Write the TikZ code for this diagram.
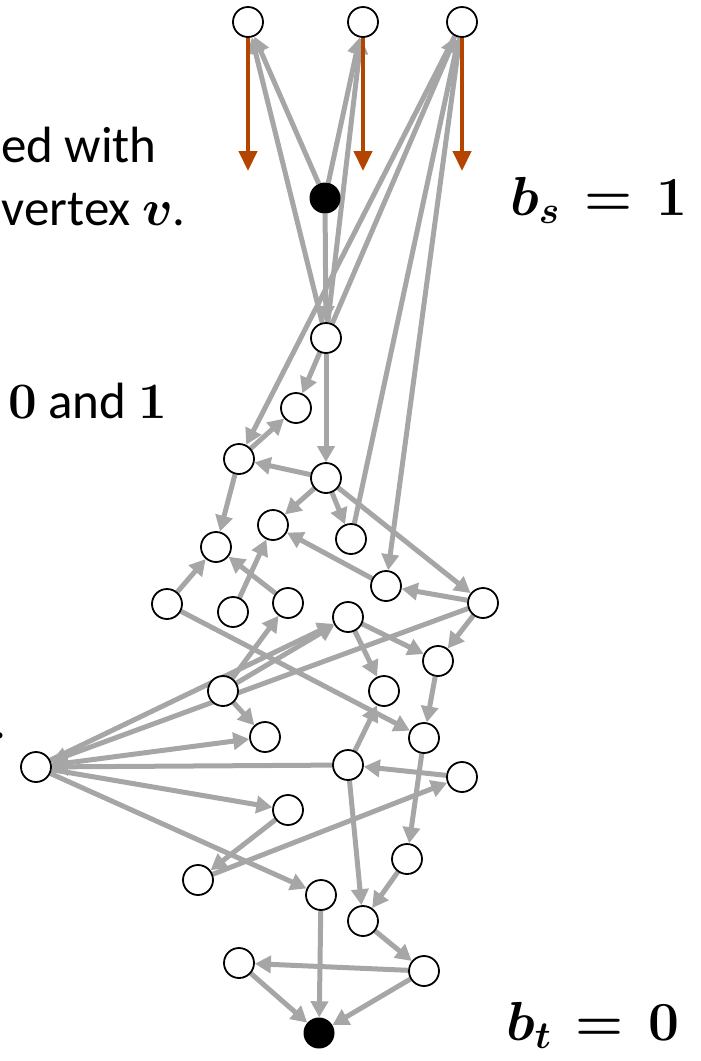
\RequirePackage{fix-cm}
\documentclass[tikz,border=0pt]{standalone}
\usepackage[no-math]{fontspec}
\setmainfont{Carlito}
\usepackage{amsmath,bm}
\usetikzlibrary{arrows.meta}
\pgfdeclarelayer{bg}
\pgfsetlayers{bg,main}
\definecolor{edgegray}{RGB}{166,166,166}
\definecolor{rust}{RGB}{180,69,0}
\tikzset{
 vtx/.style={circle, draw=black, line width=1.8pt, fill=white, minimum size=30pt, inner sep=0pt},
 src/.style={circle, fill=black, minimum size=31pt, inner sep=0pt},
 gedge/.style={draw=edgegray, line width=5pt, -{Triangle[length=16pt,width=17pt]}},
 flow/.style={draw=rust, line width=4.5pt, -{Triangle[length=20pt,width=18pt]}},
 lbl/.style={font=\fontsize{51}{57}\selectfont, inner sep=0pt},
 mlbl/.style={font=\fontsize{55}{60}\selectfont, inner sep=0pt}
}
\begin{document}
\begin{tikzpicture}[x=1pt,y=-1pt]
\useasboundingbox (0,0) rectangle (701,1061);
% vertices
\node[vtx] (T1) at (248,22) {};
\node[vtx] (T2) at (363,22) {};
\node[vtx] (T3) at (462,22) {};
\node[src] (S) at (325,198) {};
\node[vtx] (A) at (326,338) {};
\node[vtx] (B) at (296,408) {};
\node[vtx] (C) at (239,459) {};
\node[vtx] (D) at (326,478) {};
\node[vtx] (E) at (273,525) {};
\node[vtx] (F) at (351,539) {};
\node[vtx] (G) at (216,547) {};
\node[vtx] (H) at (386,586) {};
\node[vtx] (I) at (167,604) {};
\node[vtx] (J) at (233,612) {};
\node[vtx] (K) at (288,603) {};
\node[vtx] (L) at (483,603) {};
\node[vtx] (M) at (348,617) {};
\node[vtx] (N) at (438,661) {};
\node[vtx] (O) at (223,691) {};
\node[vtx] (P) at (384,691) {};
\node[vtx] (Q) at (265,737) {};
\node[vtx] (R) at (424,738) {};
\node[vtx] (Z) at (36,767) {};
\node[vtx] (U) at (348,765) {};
\node[vtx] (V) at (462,777) {};
\node[vtx] (W) at (288,810) {};
\node[vtx] (X) at (407,859) {};
\node[vtx] (Y) at (198,880) {};
\node[vtx] (AA) at (321,895) {};
\node[vtx] (AB) at (363,921) {};
\node[vtx] (AC) at (239,963) {};
\node[vtx] (AD) at (424,971) {};
\node[src] (Tt) at (319,1033) {};
\coordinate (e1) at (248,171);
\coordinate (e2) at (363,171);
\coordinate (e3) at (462,171);
% gray edges
\begin{pgfonlayer}{bg}
\draw[gedge] (S) -- (T1);
\draw[gedge] (S) -- (T2);
\draw[gedge] (A) -- (T1);
\draw[gedge] (A) -- (T2);
\draw[gedge] (A) -- (T3);
\draw[gedge] (S) -- (A);
\draw[gedge] (T3) -- (C);
\draw[gedge] (T3) -- (H);
\draw[gedge] (F) -- (T3);
\draw[gedge] (A) -- (B);
\draw[gedge] (A) -- (D);
\draw[gedge] (C) -- (B);
\draw[gedge] (D) -- (C);
\draw[gedge] (D) -- (E);
\draw[gedge] (D) -- (F);
\draw[gedge] (D) -- (L);
\draw[gedge] (C) -- (G);
\draw[gedge] (H) -- (E);
\draw[gedge] (L) -- (H);
\draw[gedge] (I) -- (G);
\draw[gedge] (J) -- (E);
\draw[gedge] (K) -- (G);
\draw[gedge] (I) -- (R);
\draw[gedge] (M) -- (N);
\draw[gedge] (M) -- (P);
\draw[gedge] (L) -- (N);
\draw[gedge] (L) -- (Z);
\draw[gedge] (O) -- (M);
\draw[gedge] (Z) -- (M);
\draw[gedge] (O) -- (K);
\draw[gedge] (O) -- (Q);
\draw[gedge] (Z) -- (Q);
\draw[gedge] (U) -- (Z);
\draw[gedge] (Z) -- (W);
\draw[gedge] (Z) -- (AA);
\draw[gedge] (W) -- (Y);
\draw[gedge] (Y) -- (V);
\draw[gedge] (N) -- (R);
\draw[gedge] (U) -- (P);
\draw[gedge] (V) -- (U);
\draw[gedge] (R) -- (X);
\draw[gedge] (U) -- (AB);
\draw[gedge] (X) -- (AB);
\draw[gedge] (AB) -- (AD);
\draw[gedge] (AD) -- (AC);
\draw[gedge] (AC) -- (Tt);
\draw[gedge] (AA) -- (Tt);
\draw[gedge] (AD) -- (Tt);
\end{pgfonlayer}
% orange arrows
\draw[flow] (T1) -- (e1);
\draw[flow] (T2) -- (e2);
\draw[flow] (T3) -- (e3);
% labels
\node[lbl, anchor=base east] (t1) at (157,162) {ed with};
\node[lbl, anchor=base east] (t2) at (186,225) {vertex $\bm{v}$.};
\node[lbl, anchor=base east] (t3) at (167,418) {$\mathbf{0}$ and $\mathbf{1}$};
\node[lbl, anchor=base east] (t4) at (7,738) {.};
\node[mlbl, anchor=base west] (bs) at (510,215) {$\bm{b}_{\bm{s}}\,\bm{=}\,\mathbf{1}$};
\node[mlbl, anchor=base west] (bt) at (506,1040) {$\bm{b}_{\bm{t}}\,\bm{=}\,\mathbf{0}$};
\end{tikzpicture}
\end{document}
